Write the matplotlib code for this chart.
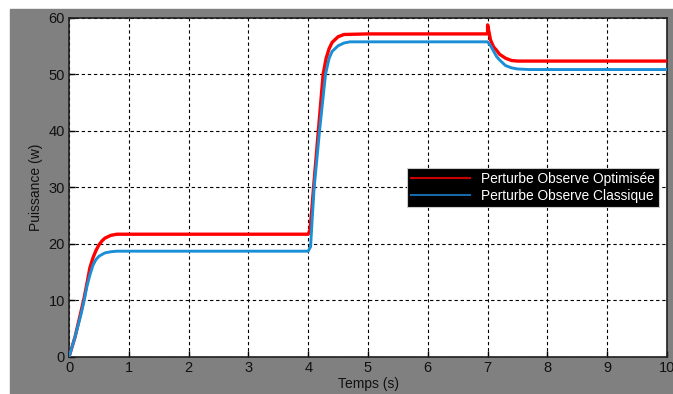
import matplotlib
matplotlib.use("Agg")
import matplotlib.pyplot as plt
from matplotlib.patches import Rectangle

plt.rcParams["font.family"] = ["Liberation Sans", "DejaVu Sans"]

t_opt = [0, 0.1, 0.2, 0.25, 0.3, 0.35, 0.4, 0.45, 0.5, 0.55, 0.6, 0.7, 0.8, 1.0,
         4.0, 4.03, 4.06, 4.09, 4.13, 4.17, 4.21, 4.25, 4.3, 4.35, 4.4, 4.5, 4.6, 5.0,
         7.0, 7.0, 7.05, 7.1, 7.15, 7.2, 7.3, 7.4, 7.5, 10.0]
p_opt = [0, 3.5, 8, 10.3, 13, 15.8, 17.5, 18.8, 19.8, 20.5, 21.0, 21.5, 21.7, 21.7,
         21.7, 22.5, 26, 30, 35, 40, 45, 50, 52.8, 54.5, 55.6, 56.6, 57.0, 57.1,
         57.1, 58.7, 56.0, 54.8, 54.2, 53.5, 52.8, 52.4, 52.3, 52.3]

t_cls = [0, 0.1, 0.2, 0.25, 0.3, 0.35, 0.4, 0.45, 0.5, 0.6, 0.7, 0.8, 1.0,
         4.0, 4.04, 4.07, 4.1, 4.145, 4.19, 4.24, 4.29, 4.35, 4.4, 4.5, 4.6, 4.7, 5.0,
         7.0, 7.05, 7.15, 7.2, 7.3, 7.4, 7.5, 7.7, 10.0]
p_cls = [0, 3.5, 7.5, 9.8, 12.5, 14.5, 16.2, 17.2, 17.8, 18.4, 18.6, 18.7, 18.7,
         18.7, 19.5, 25, 30, 35, 40, 45, 50, 52.8, 54.0, 55.0, 55.5, 55.7, 55.7,
         55.7, 55.0, 53.1, 52.5, 51.5, 51.1, 50.9, 50.8, 50.8]

labels = ["Perturbe Observe Optimisée", "Perturbe Observe Classique"]
xticks = list(range(0, 11))
yticks = list(range(0, 61, 10))

W, H = 673, 394
fig = plt.figure(figsize=(W / 100, H / 100), dpi=100, facecolor="white")
fig.patches.append(Rectangle((10 / W, 0), 1 - 10 / W, (H - 9) / H,
                             transform=fig.transFigure, color="#808080", zorder=-10))

ax = fig.add_axes([69 / W, (H - 357) / H, (667 - 69) / W, (357 - 17.5) / H])
ax.set_zorder(1)
ax.set_facecolor("white")

ax.plot(t_opt, p_opt, color="#ff0000", lw=2.4, label=labels[0], zorder=3)
ax.plot(t_cls, p_cls, color="#1b8fd6", lw=2.1, label=labels[1], zorder=4)

ax.set_xlim(0, 10)
ax.set_ylim(0, 60)
ax.set_xticks(xticks)
ax.set_yticks(yticks)
ax.set_xticklabels([str(v) for v in xticks])
ax.set_yticklabels([str(v) for v in yticks])
ax.tick_params(direction="in", length=4, width=1, colors="black",
               labelsize=10.5, labelcolor="#111111", pad=3)
ax.grid(True, color="black", linestyle=(0, (3, 2.5)), linewidth=0.8)

for s in ax.spines.values():
    s.set_color("#202020")
    s.set_linewidth(1.2)

ax.set_xlabel("Temps (s)", fontsize=10, color="#111111", labelpad=1)
ax.set_ylabel("Puissance (w)", fontsize=10, color="#111111", labelpad=4)

leg = ax.legend(loc="upper left",
                bbox_to_anchor=((407 - 69) / (667 - 69), (357 - 168) / (357 - 17.5)),
                frameon=True, fancybox=False, fontsize=9.9,
                handlelength=4.3, borderpad=0.3, labelspacing=0.2,
                handletextpad=0.8, borderaxespad=0)
leg.get_frame().set_facecolor("black")
leg.get_frame().set_edgecolor("#cccccc")
leg.get_frame().set_linewidth(0.8)
leg.get_frame().set_alpha(1)
for txt in leg.get_texts():
    txt.set_color("white")
hl = leg.legend_handles
hl[0].set_color("#c80000")
hl[0].set_linewidth(1.5)
hl[1].set_color("#1868a8")
hl[1].set_linewidth(1.5)
leg.set_zorder(10)

fig.savefig("out.png", dpi=100, facecolor=fig.get_facecolor())
